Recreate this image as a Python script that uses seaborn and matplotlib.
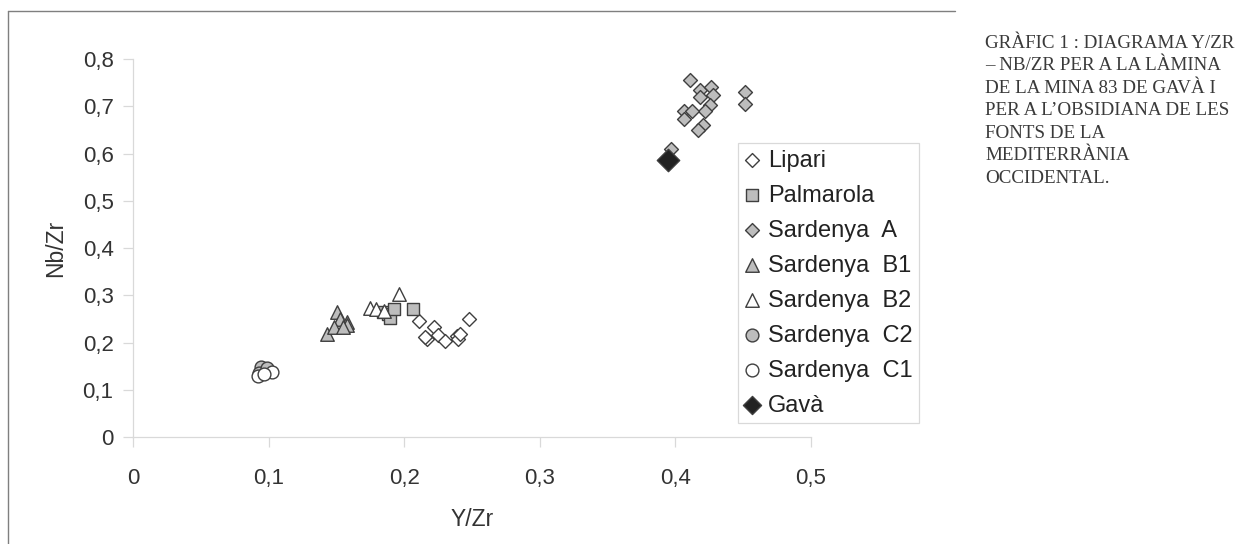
import matplotlib
matplotlib.use('Agg')
import matplotlib.pyplot as plt
import seaborn as sns
from matplotlib.lines import Line2D

# values (Y/Zr, Nb/Zr)
lipari_x = [0.211, 0.222, 0.225, 0.2165, 0.2153, 0.230, 0.2387, 0.240, 0.241, 0.248]
lipari_y = [0.246, 0.233, 0.216, 0.207, 0.212, 0.204, 0.2135, 0.207, 0.218, 0.249]
palmarola_x = [0.1846, 0.1883, 0.1895, 0.1925, 0.2067]
palmarola_y = [0.265, 0.261, 0.251, 0.270, 0.270]
sard_a_x = [0.4108, 0.418, 0.426, 0.4275, 0.418, 0.4255, 0.4218, 0.406, 0.412,
            0.406, 0.4206, 0.417, 0.4513, 0.4513, 0.3965]
sard_a_y = [0.755, 0.734, 0.741, 0.723, 0.719, 0.702, 0.691, 0.691, 0.690,
            0.674, 0.660, 0.649, 0.730, 0.704, 0.610]
sard_b1_x = [0.1507, 0.1527, 0.1576, 0.158, 0.1433, 0.1482, 0.155]
sard_b1_y = [0.265, 0.249, 0.244, 0.237, 0.219, 0.233, 0.233]
sard_b2_x = [0.1964, 0.1748, 0.179, 0.185]
sard_b2_y = [0.302, 0.272, 0.270, 0.266]
sard_c2_x = [0.0942, 0.0931, 0.0986]
sard_c2_y = [0.149, 0.135, 0.145]
sard_c1_x = [0.1023, 0.0924, 0.0965]
sard_c1_y = [0.138, 0.129, 0.133]
gava_x = [0.3948]
gava_y = [0.586]

labels = ['Lipari', 'Palmarola', 'Sardenya  A', 'Sardenya  B1', 'Sardenya  B2',
          'Sardenya  C2', 'Sardenya  C1', 'Gavà']
x_ticks = [0, 0.1, 0.2, 0.3, 0.4, 0.5]
x_tick_labels = ['0', '0,1', '0,2', '0,3', '0,4', '0,5']
y_ticks = [0, 0.1, 0.2, 0.3, 0.4, 0.5, 0.6, 0.7, 0.8]
y_tick_labels = ['0', '0,1', '0,2', '0,3', '0,4', '0,5', '0,6', '0,7', '0,8']
title = ('GRÀFIC 1 : DIAGRAMA Y/ZR\n– NB/ZR PER A LA LÀMINA\nDE LA MINA 83 DE GAVÀ I\n'
         'PER A L\u2019OBSIDIANA DE LES\nFONTS DE LA\nMEDITERRÀNIA\nOCCIDENTAL.')

series = [(lipari_x, lipari_y), (palmarola_x, palmarola_y), (sard_a_x, sard_a_y),
          (sard_b1_x, sard_b1_y), (sard_b2_x, sard_b2_y), (sard_c2_x, sard_c2_y),
          (sard_c1_x, sard_c1_y), (gava_x, gava_y)]

GREY = '#bdbdbd'
EDGE = '#3f3f3f'
styles = [('D', 'white', 50), ('s', GREY, 80), ('D', GREY, 50), ('^', GREY, 95),
          ('^', 'white', 95), ('o', GREY, 85), ('o', 'white', 85), ('D', '#222222', 130)]

sns.set_style('ticks')
plt.rcParams['font.family'] = ['Liberation Sans', 'DejaVu Sans']

fig = plt.figure(figsize=(12.45, 5.44), dpi=100)
ax = fig.add_axes([133 / 1245, 1 - 437 / 544, 678 / 1245, 378 / 544])

for (xs, ys), lab, (mk, fc, sz) in zip(series, labels, styles):
    sns.scatterplot(x=xs, y=ys, ax=ax, marker=mk, color=fc, s=sz,
                    edgecolor=EDGE, linewidth=1.0, label=lab, zorder=3)

ax.set_xlim(0, 0.5)
ax.set_ylim(0, 0.8)
ax.set_xticks(x_ticks)
ax.set_xticklabels(x_tick_labels)
ax.set_yticks(y_ticks)
ax.set_yticklabels(y_tick_labels)
sns.despine(ax=ax)
for side in ['left', 'bottom']:
    ax.spines[side].set_color('#d9d9d9')
    ax.spines[side].set_linewidth(0.9)
ax.tick_params(axis='both', colors='#d9d9d9', labelcolor='#333333',
               labelsize=16, length=7, width=0.9)
ax.tick_params(axis='x', pad=15)
ax.tick_params(axis='y', pad=7)

ax.set_xlabel('Y/Zr', fontsize=16.5, color='#333333')
ax.set_ylabel('Nb/Zr', fontsize=16.5, color='#333333')
ax.xaxis.set_label_coords(0.5, (437 - 519) / 378)
ax.xaxis.label.set_va('center')
ax.yaxis.set_label_coords((56 - 133) / 678, 0.5)
ax.yaxis.label.set_va('center')

leg = ax.legend(loc='upper left', bbox_to_anchor=(738 / 1245, 1 - 143 / 544),
                bbox_transform=fig.transFigure, frameon=True, fancybox=False,
                edgecolor='#d9d9d9', framealpha=1, borderaxespad=0,
                handlelength=0.6, handletextpad=0.4, borderpad=0.28,
                labelspacing=0.55, fontsize=17)
leg.get_frame().set_linewidth(0.9)
leg.legend_handles[-1].set_sizes([85])
for t in leg.get_texts():
    t.set_color('#222222')

# outer frame of the chart
fig.add_artist(Line2D([8 / 1245, 8 / 1245], [0, 1 - 11 / 544], color='#7f7f7f',
                      lw=1.0, transform=fig.transFigure))
fig.add_artist(Line2D([8 / 1245, 955 / 1245], [1 - 11 / 544, 1 - 11 / 544],
                      color='#7f7f7f', lw=1.0, transform=fig.transFigure))

fig.text(985 / 1245, 1 - 35 / 544, title, ha='left', va='top', fontsize=13.7,
         family=['Liberation Serif', 'DejaVu Serif'], color='#3a3a3a',
         linespacing=1.42)

plt.savefig('out.png', dpi=100)
